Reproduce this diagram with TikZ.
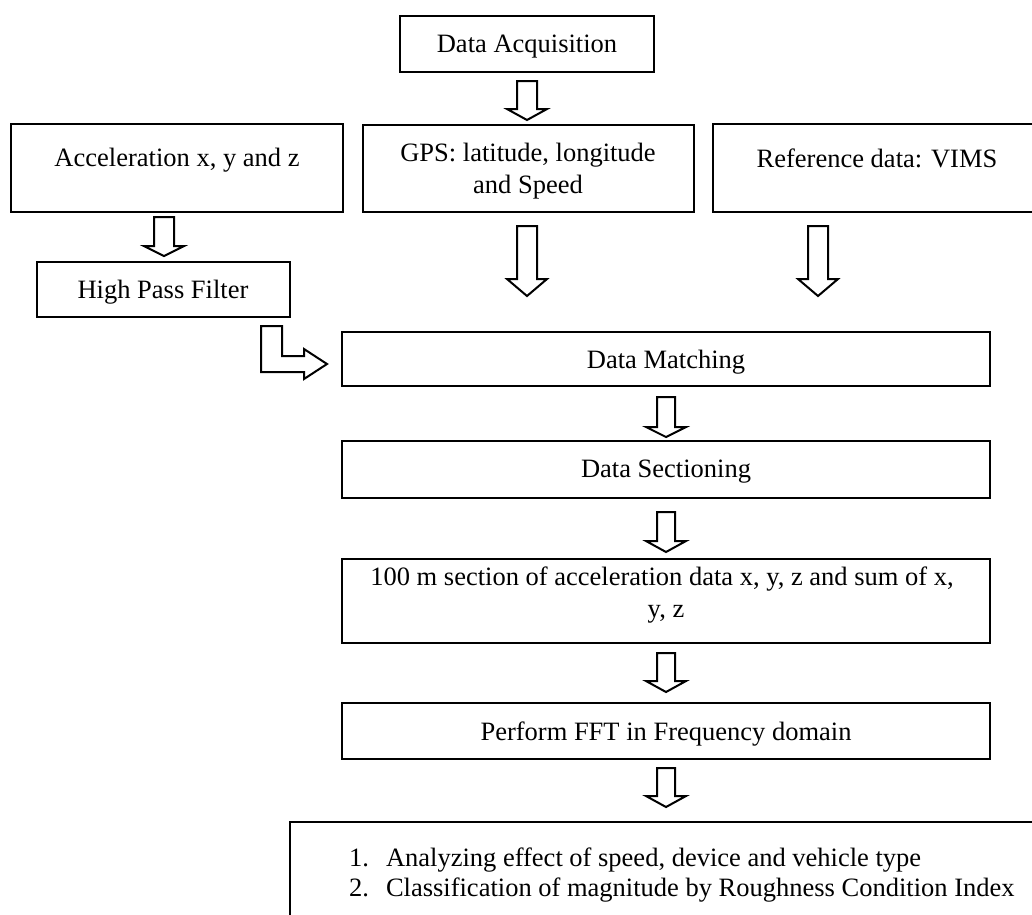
\documentclass[tikz,border=0pt]{standalone}
\usepackage{fontspec}
\setmainfont{Liberation Serif}
\tikzset{
  box/.style={draw=black, line width=2, inner sep=0, outer sep=0, fill=none},
  blk/.style={draw=black, line width=2, fill=white, line join=miter},
  txt/.style={inner sep=0, outer sep=0, font=\fontsize{26.5}{32}\selectfont},
}
% box: name, left, top, right, bottom
\newcommand{\boxat}[5]{\node[box, minimum width={#4-#2}, minimum height={#5-#3}] (#1) at ({(#2+#4)/2},{(#3+#5)/2}) {};}
% down block arrow: x, top, head base, tip, half shaft
\newcommand{\blkdown}[5]{\draw[blk] (#1-#5,#2) -- (#1-#5,#3) -- (#1-20,#3) -- (#1,#4) -- (#1+20,#3) -- (#1+#5,#3) -- (#1+#5,#2) -- cycle;}
\begin{document}
\begin{tikzpicture}[x=1pt,y=-1pt]
\useasboundingbox (0,0) rectangle (1032,914);
\clip (0,0) rectangle (1032,914);
\fill[white] (0,0) rectangle (1032,914);
% boxes
\boxat{da}{400}{16}{654}{72}
\boxat{acc}{11}{124}{343}{212}
\boxat{gps}{363}{125}{694}{212}
\boxat{ref}{713}{124}{1045}{212}
\boxat{hpf}{37}{262}{290}{317}
\boxat{dm}{342}{332}{990}{386}
\boxat{ds}{342}{441}{990}{498}
\boxat{sec}{342}{559}{990}{643}
\boxat{fft}{342}{703}{990}{759}
\boxat{res}{290}{822}{1060}{940}
% texts
\node[txt, anchor=base] (dat) at (527,52) {Data Acquisition};
\node[txt, anchor=base] (acct) at (177,166) {Acceleration x, y and z};
\node[txt, anchor=base] (gpst1) at (528,161) {GPS: latitude, longitude};
\node[txt, anchor=base] (gpst2) at (528,193) {and Speed};
\node[txt, anchor=base] (reft) at (877,167) {Reference data: VIMS};
\node[txt, anchor=base] (hpft) at (163,298) {High Pass Filter};
\node[txt, anchor=base] (dmt) at (666,368) {Data Matching};
\node[txt, anchor=base] (dst) at (666,477) {Data Sectioning};
\node[txt, anchor=base] (sect1) at (662,585) {100 m section of acceleration data x, y, z and sum of x,};
\node[txt, anchor=base] (sect2) at (666,617) {y, z};
\node[txt, anchor=base] (fftt) at (666,740) {Perform FFT in Frequency domain};
\node[txt, anchor=base west] (n1) at (349,866) {1.};
\node[txt, anchor=base west] (l1) at (386,866) {Analyzing effect of speed, device and vehicle type};
\node[txt, anchor=base west] (n2) at (349,896) {2.};
\node[txt, anchor=base west] (l2) at (386,896) {Classification of magnitude by Roughness Condition Index};
% block arrows
\blkdown{527}{81}{109}{120}{10}
\blkdown{164}{217}{246}{256}{10}
\blkdown{527}{226}{279}{296}{10}
\blkdown{818}{226}{279}{296}{10}
\blkdown{666}{397}{427}{437}{9}
\blkdown{666}{512}{541}{552}{9}
\blkdown{666}{653}{681}{692}{9}
\blkdown{666}{768}{796}{807}{9}
% bent arrow HPF -> Data Matching
\draw[blk] (261,326) -- (282,326) -- (282,356) -- (304,356) -- (304,349) -- (327,364) -- (304,379) -- (304,372) -- (261,372) -- cycle;
\end{tikzpicture}
\end{document}
